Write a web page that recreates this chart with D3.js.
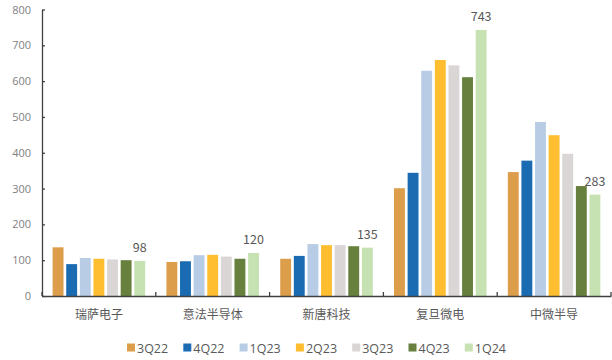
<!DOCTYPE html>
<html>
<head>
<meta charset="utf-8">
<script src="https://cdn.jsdelivr.net/npm/d3@7"></script>
<style>
body { margin: 0; background: #fff; }
text { font-family: "Noto Sans CJK SC", "Open Sans", sans-serif; }
</style>
</head>
<body>
<div id="chart"></div>
<script>
const companies = ["瑞萨电子", "意法半导体", "新唐科技", "复旦微电", "中微半导"];
const quarters = ["3Q22", "4Q22", "1Q23", "2Q23", "3Q23", "4Q23", "1Q24"];
const colors = ["#DD9E4C", "#1B6BB3", "#B8CDE5", "#FEBE30", "#DAD6D6", "#67803E", "#C7E2B2"];
// values per quarter, in company order
const q3_22 = [136, 95, 104, 301, 346];
const q4_22 = [89, 97, 112, 344, 378];
const q1_23 = [106, 114, 145, 629, 486];
const q2_23 = [104, 115, 142, 659, 449];
const q3_23 = [102, 110, 142, 644, 397];
const q4_23 = [100, 104, 139, 611, 307];
const q1_24 = [98, 120, 135, 743, 283];
const yTicks = [0, 100, 200, 300, 400, 500, 600, 700, 800];

const series = [q3_22, q4_22, q1_23, q2_23, q3_23, q4_23, q1_24];

const width = 612, height = 360;
const margin = {left: 42, right: 1, top: 9.5, bottom: 64};

const svg = d3.select("#chart").append("svg")
	.attr("width", width)
	.attr("height", height);

const x0 = d3.scaleBand()
	.domain(companies)
	.range([margin.left, width - margin.right])
	.paddingInner(0)
	.paddingOuter(0);

const x1 = d3.scaleBand()
	.domain(quarters)
	.range([0, x0.bandwidth()])
	.paddingOuter(0.78)
	.paddingInner(0.2);

const y = d3.scaleLinear()
	.domain([0, 800])
	.range([height - margin.bottom, margin.top]);

// bars
const groups = svg.append("g")
	.selectAll("g")
	.data(companies)
	.enter()
	.append("g")
	.attr("transform", d => `translate(${x0(d)},0)`);

groups.selectAll("rect")
	.data((d, ci) => quarters.map((q, qi) => ({q: q, qi: qi, v: series[qi][ci]})))
	.enter()
	.append("rect")
	.attr("x", d => x1(d.q))
	.attr("y", d => y(d.v))
	.attr("width", x1.bandwidth())
	.attr("height", d => y(0) - y(d.v))
	.attr("fill", d => colors[d.qi]);

// labels on last quarter
groups.append("text")
	.attr("x", (d, ci) => x1("1Q24") + x1.bandwidth() / 2)
	.attr("y", (d, ci) => y(q1_24[ci]) - 9)
	.attr("text-anchor", "middle")
	.attr("font-size", 12.5)
	.attr("fill", "#595959")
	.text((d, ci) => q1_24[ci]);

// y axis
const yAxis = svg.append("g")
	.attr("transform", `translate(${margin.left},0)`)
	.call(d3.axisLeft(y).tickValues(yTicks).tickSize(3).tickSizeOuter(0));
yAxis.select(".domain").attr("stroke", "#404040").attr("stroke-width", 1.3);
yAxis.selectAll(".tick line").attr("stroke", "#404040").attr("x1", 0).attr("x2", 3).attr("stroke-width", 1.3);
yAxis.selectAll(".tick text")
	.attr("x", -11)
	.attr("font-size", 11)
	.attr("fill", "#7F7F7F")
	.style("font-family", "Open Sans, sans-serif");

// x axis
const xAxis = svg.append("g")
	.attr("transform", `translate(0,${y(0)})`)
	.call(d3.axisBottom(x0).tickSize(0).tickSizeOuter(0));
xAxis.select(".domain").attr("stroke", "#404040").attr("stroke-width", 1.3);
xAxis.selectAll(".tick text")
	.attr("y", 14)
	.attr("font-size", 12)
	.attr("fill", "#595959");
// boundary ticks between categories
svg.append("g")
	.selectAll("line")
	.data(companies.concat(["end"]))
	.enter()
	.append("line")
	.attr("x1", (d, i) => i < companies.length ? x0(d) : x0.range()[1])
	.attr("x2", (d, i) => i < companies.length ? x0(d) : x0.range()[1])
	.attr("y1", y(0))
	.attr("y2", y(0) - 4)
	.attr("stroke", "#404040")
	.attr("stroke-width", 1.3);

// legend
const legend = svg.append("g")
	.selectAll("g")
	.data(quarters)
	.enter()
	.append("g")
	.attr("transform", (d, i) => `translate(${127 + i * 56.3},348)`);
legend.append("rect")
	.attr("x", 0)
	.attr("y", -4.5)
	.attr("width", 8)
	.attr("height", 8)
	.attr("fill", (d, i) => colors[i]);
legend.append("text")
	.attr("x", 10)
	.attr("y", 4.5)
	.attr("font-size", 12.5)
	.attr("fill", "#595959")
	.style("font-family", "Open Sans, sans-serif")
	.text(d => d);
</script>
</body>
</html>
